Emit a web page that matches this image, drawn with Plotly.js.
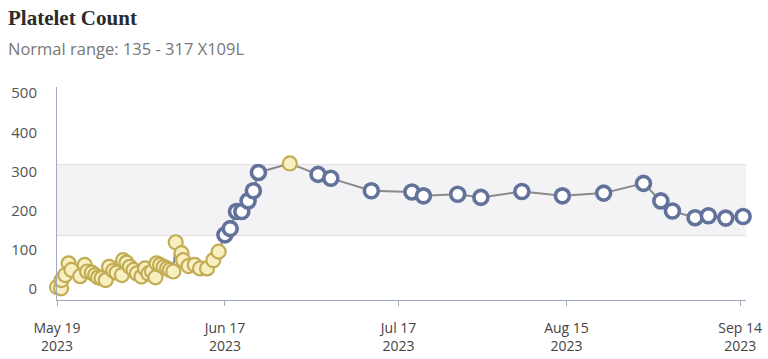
<!DOCTYPE html>
<html>
<head>
<meta charset="utf-8">
<script src="https://cdn.plot.ly/plotly-3.0.1.min.js"></script>
<style>html,body{margin:0;padding:0;background:#fff;}#chart{width:768px;height:359px;}</style>
</head>
<body>
<div id="chart"></div>
<script>
// Data
const dates = [
  "2023-05-19 00:00","2023-05-19 17:00","2023-05-19 19:00","2023-05-20 10:00","2023-05-21 00:00",
  "2023-05-21 12:00","2023-05-23 00:00","2023-05-23 19:00","2023-05-24 05:00","2023-05-25 00:00",
  "2023-05-25 14:00","2023-05-26 02:00","2023-05-26 17:00","2023-05-27 10:00","2023-05-28 00:00",
  "2023-05-28 17:00","2023-05-29 07:00","2023-05-30 05:00","2023-05-30 10:00","2023-05-31 00:00",
  "2023-05-31 14:00","2023-06-01 05:00","2023-06-01 19:00","2023-06-02 14:00","2023-06-03 05:00",
  "2023-06-03 19:00","2023-06-04 10:00","2023-06-05 00:00","2023-06-05 05:00","2023-06-05 19:00",
  "2023-06-06 10:00","2023-06-07 00:00","2023-06-07 12:00","2023-06-08 02:00","2023-06-08 12:00",
  "2023-06-09 12:00","2023-06-09 19:00","2023-06-10 17:00","2023-06-11 19:00","2023-06-12 17:00",
  "2023-06-13 22:00","2023-06-15 00:00","2023-06-15 22:00",
  "2023-06-17 00:00","2023-06-17 22:00","2023-06-19 00:00","2023-06-19 22:00","2023-06-21 00:00",
  "2023-06-21 22:00","2023-06-22 19:00","2023-06-28 05:00","2023-07-03 02:00","2023-07-05 07:00",
  "2023-07-12 07:00","2023-07-19 07:00","2023-07-21 07:00","2023-07-27 05:00","2023-07-31 05:00",
  "2023-08-07 07:00","2023-08-14 07:00","2023-08-21 10:00","2023-08-28 07:00","2023-08-31 07:00",
  "2023-09-02 07:00","2023-09-06 05:00","2023-09-08 12:00","2023-09-11 12:00","2023-09-14 12:00"
];
const platelets = [
  3, 0, 21, 34, 64,
  47, 31, 60, 43, 40,
  34, 28, 26, 21, 55,
  45, 40, 34, 72, 66,
  55, 47, 38, 30, 51,
  38, 43, 28, 64, 60,
  55, 51, 47, 43, 118,
  90, 72, 57, 60, 51,
  51, 72, 94,
  137, 153, 197, 197, 224,
  250, 297, 320, 292, 282,
  250, 247, 237, 241, 233,
  248, 237, 244, 269, 224,
  198, 181, 186, 180, 184
];
const normalLow = 135;
const normalHigh = 317;
const tickDates = ["2023-05-19","2023-06-17","2023-07-17","2023-08-15","2023-09-14"];
const tickLabels = ["May 19<br>2023","Jun 17<br>2023","Jul 17<br>2023","Aug 15<br>2023","Sep 14<br>2023"];
const yTicks = [0, 100, 200, 300, 400, 500];

const inRange = platelets.map(v => v >= normalLow && v <= normalHigh);
const pick = (arr, want) => arr.filter((_, i) => inRange[i] === want);

const lineTrace = {
  x: dates, y: platelets, type: "scatter", mode: "lines",
  line: {color: "#8a8a8a", width: 2}, hoverinfo: "skip"
};
const outTrace = {
  x: pick(dates, false), y: pick(platelets, false), type: "scatter", mode: "markers",
  marker: {size: 14, color: "#f8f0c0", line: {color: "#c2ad55", width: 2.2}},
  cliponaxis: false
};
const inTrace = {
  x: pick(dates, true), y: pick(platelets, true), type: "scatter", mode: "markers",
  marker: {size: 14, color: "#ffffff", line: {color: "#62729a", width: 3.6}},
  cliponaxis: false
};

const axisColor = "#9eabbf";
const layout = {
  width: 768, height: 359,
  margin: {l: 57, r: 22, t: 87, b: 59},
  paper_bgcolor: "#ffffff", plot_bgcolor: "#ffffff",
  showlegend: false,
  xaxis: {
    type: "date", range: ["2023-05-19 00:00", "2023-09-15 00:00"],
    tickmode: "array", tickvals: tickDates, ticktext: tickLabels,
    showgrid: false, zeroline: false,
    showline: true, linecolor: axisColor, linewidth: 1,
    ticks: "outside", ticklen: 5, tickcolor: axisColor, ticklabelstandoff: 10,
    tickfont: {family: "Open Sans, sans-serif", size: 14, color: "#444"}
  },
  yaxis: {
    range: [-30, 516], tickmode: "array", tickvals: yTicks,
    showgrid: false, zeroline: false,
    showline: true, linecolor: axisColor, linewidth: 1,
    ticks: "", ticklabelstandoff: 16,
    tickfont: {family: "Open Sans, sans-serif", size: 15, color: "#555"}
  },
  shapes: [
    {type: "rect", xref: "paper", yref: "y", x0: 0, x1: 1, y0: normalLow, y1: normalHigh,
     fillcolor: "#f3f3f5", line: {width: 0}, layer: "below"},
    {type: "line", xref: "paper", yref: "y", x0: 0, x1: 1, y0: normalLow, y1: normalLow,
     line: {color: "#dcdce2", width: 1}, layer: "below"},
    {type: "line", xref: "paper", yref: "y", x0: 0, x1: 1, y0: normalHigh, y1: normalHigh,
     line: {color: "#dcdce2", width: 1}, layer: "below"}
  ],
  annotations: [
    {text: "<b>Platelet Count</b>", xref: "paper", yref: "paper", x: -51/689, y: 1 + (87-18)/213,
     xanchor: "left", yanchor: "middle", showarrow: false,
     font: {family: "Liberation Serif, serif", size: 21, color: "#2b2b2b"}},
    {text: "Normal range: " + normalLow + " - " + normalHigh + " X109L", xref: "paper", yref: "paper",
     x: -51/689, y: 1 + (87-48)/213, xanchor: "left", yanchor: "middle", showarrow: false,
     font: {family: "Open Sans, sans-serif", size: 16.5, color: "#777"}}
  ]
};

Plotly.newPlot("chart", [lineTrace, outTrace, inTrace], layout, {displayModeBar: false, staticPlot: true});
</script>
</body>
</html>
